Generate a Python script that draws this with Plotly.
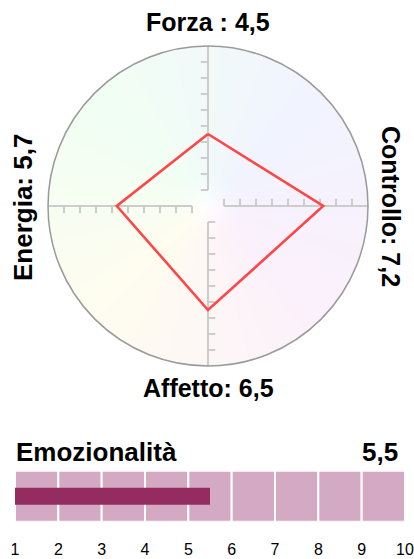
import base64, struct, zlib
import numpy as np
import plotly.graph_objects as go

# ---------------- data ----------------
axis_names = ["Forza", "Controllo", "Affetto", "Energia"]
axis_values = [4.5, 7.2, 6.5, 5.7]
axis_labels = ["Forza : 4,5", "Controllo: 7,2", "Affetto: 6,5", "Energia: 5,7"]
scale_max = 10
radar_ticks = list(range(1, 10))

emo_label = "Emozionalità"
emo_value = 5.5
emo_value_text = "5,5"
emo_ticks = list(range(1, 11))
emo_tick_labels = [str(t) for t in emo_ticks]

# ---------------- geometry helpers ----------------
W, H = 414, 559
PX = 16.0            # pixels per radar unit
CX, CY = 208.0, 206.0

def dx(px):
    return (px - CX) / PX

def dy(py):
    return (CY - py) / PX

# directions of the four axes (up, right, down, left)
dirs = [(0, 1), (1, 0), (0, -1), (-1, 0)]
tick_len = 0.45

fig = go.Figure()

# axes with ticks
ax_x, ax_y = [], []
for (ux, uy) in dirs:
    px_, py_ = -uy, ux
    ax_x += [ux * 1, ux * scale_max, None]
    ax_y += [uy * 1, uy * scale_max, None]
    for t in radar_ticks:
        ax_x += [ux * t, ux * t + px_ * tick_len, None]
        ax_y += [uy * t, uy * t + py_ * tick_len, None]
fig.add_trace(go.Scatter(x=ax_x, y=ax_y, mode="lines",
                         line=dict(color="#cccccc", width=2),
                         hoverinfo="skip", showlegend=False, xaxis="x", yaxis="y"))

# data polygon
poly_x = [d[0] * v for d, v in zip(dirs, axis_values)]
poly_y = [d[1] * v for d, v in zip(dirs, axis_values)]
poly_x.append(poly_x[0]); poly_y.append(poly_y[0])
fig.add_trace(go.Scatter(x=poly_x, y=poly_y, mode="lines",
                         line=dict(color="#ff4545", width=2.6),
                         hoverinfo="skip", showlegend=False, xaxis="x", yaxis="y"))

# ---------------- background gradient image ----------------
N = 320
coords = -scale_max + (np.arange(N) + 0.5) * (2 * scale_max / N)
gx, gy = np.meshgrid(coords, coords[::-1])
r = np.hypot(gx, gy)
theta = np.degrees(np.arctan2(gy, gx)) % 360
theta = np.where(theta < 45, theta + 360, theta)
anchor_ang = [45, 135, 225, 315, 405]
anchor_col = [(241, 244, 255), (241, 255, 244), (255, 253, 240), (252, 241, 252), (241, 244, 255)]
rgba = np.zeros((N, N, 4), dtype=float)
for c in range(3):
    rgba[..., c] = np.interp(theta, anchor_ang, [a[c] for a in anchor_col])
f = 0.7 * np.exp(-(r / 1.3) ** 2)
for c in range(3):
    rgba[..., c] = rgba[..., c] * (1 - f) + 255 * f
rgba[..., 3] = np.clip((scale_max - r) * PX + 0.5, 0, 1) * 255
rgba = rgba.astype(np.uint8)

def make_png(arr):
    h, w, _ = arr.shape
    raw = b"".join(b"\x00" + arr[i].tobytes() for i in range(h))
    def chunk(t, data):
        return struct.pack(">I", len(data)) + t + data + struct.pack(">I", zlib.crc32(t + data) & 0xffffffff)
    return (b"\x89PNG\r\n\x1a\n" + chunk(b"IHDR", struct.pack(">IIBBBBB", w, h, 8, 6, 0, 0, 0))
            + chunk(b"IDAT", zlib.compress(raw, 9)) + chunk(b"IEND", b""))

uri = "data:image/png;base64," + base64.b64encode(make_png(rgba)).decode()

# ---------------- bottom bar ----------------
seg_base = emo_ticks[:-1]
fig.add_trace(go.Bar(y=[0.5] * len(seg_base), x=[1] * len(seg_base), base=seg_base,
                     orientation="h", width=1,
                     marker=dict(color="#d4a9c3", line=dict(color="white", width=2)),
                     hoverinfo="skip", showlegend=False, xaxis="x2", yaxis="y2"))
fig.add_trace(go.Bar(y=[0.5], x=[emo_value - emo_ticks[0]], base=[emo_ticks[0]],
                     orientation="h", width=0.333,
                     marker=dict(color="#942b61", line=dict(width=0)),
                     hoverinfo="skip", showlegend=False, xaxis="x2", yaxis="y2"))

# ---------------- layout ----------------
BX0, BSP = 15.0, 43.333   # px of value 1, px per unit
bar_top, bar_bot = 470.7, 521.7

FAM = "Liberation Sans, Arial, sans-serif"
title_font = dict(family=FAM, size=25, color="black", weight="bold")
big_font = dict(family=FAM, size=26, color="black", weight="bold")

annotations = [
    dict(x=dx(208), y=dy(22), text=axis_labels[0], showarrow=False, xref="x", yref="y",
         xanchor="center", yanchor="middle", font=title_font),
    dict(x=dx(391), y=dy(206), text=axis_labels[1], showarrow=False, xref="x", yref="y",
         xanchor="center", yanchor="middle", textangle=90, font=title_font),
    dict(x=dx(208), y=dy(388), text=axis_labels[2], showarrow=False, xref="x", yref="y",
         xanchor="center", yanchor="middle", font=title_font),
    dict(x=dx(23), y=dy(208), text=axis_labels[3], showarrow=False, xref="x", yref="y",
         xanchor="center", yanchor="middle", textangle=-90, font=big_font),
    dict(x=dx(14), y=dy(452), text=emo_label, showarrow=False, xref="x", yref="y",
         xanchor="left", yanchor="middle", font=big_font),
    dict(x=dx(400), y=dy(452), text=emo_value_text, showarrow=False, xref="x", yref="y",
         xanchor="right", yanchor="middle", font=big_font),
]

fig.update_layout(
    template="none",
    width=W, height=H,
    margin=dict(l=0, r=0, t=0, b=0),
    paper_bgcolor="white", plot_bgcolor="white",
    showlegend=False,
    barmode="overlay",
    xaxis=dict(domain=[0, 1], range=[dx(0), dx(W)], visible=False, fixedrange=True),
    yaxis=dict(domain=[0, 1], range=[dy(H), dy(0)], visible=False, fixedrange=True),
    xaxis2=dict(domain=[0, 1], anchor="y2",
                range=[1 - BX0 / BSP, 1 + (W - BX0) / BSP],
                showgrid=False, zeroline=False, showline=False, ticks="",
                tickvals=emo_ticks, ticktext=emo_tick_labels,
                tickfont=dict(family=FAM, size=16, color="black"),
                ticklabelstandoff=16),
    yaxis2=dict(domain=[1 - bar_bot / H, 1 - bar_top / H], anchor="x2", range=[0, 1],
                visible=False),
    shapes=[dict(type="circle", xref="x", yref="y", x0=-scale_max, y0=-scale_max,
                 x1=scale_max, y1=scale_max, line=dict(color="#9a9a9a", width=1.5),
                 layer="above")],
    images=[dict(source=uri, xref="x", yref="y", x=-scale_max, y=scale_max,
                 sizex=2 * scale_max, sizey=2 * scale_max, sizing="stretch",
                 xanchor="left", yanchor="top", layer="below")],
    annotations=annotations,
)

fig.write_html("out.html", config={"displayModeBar": False},
               post_script="document.body.style.margin='0';document.body.style.padding='0';")
